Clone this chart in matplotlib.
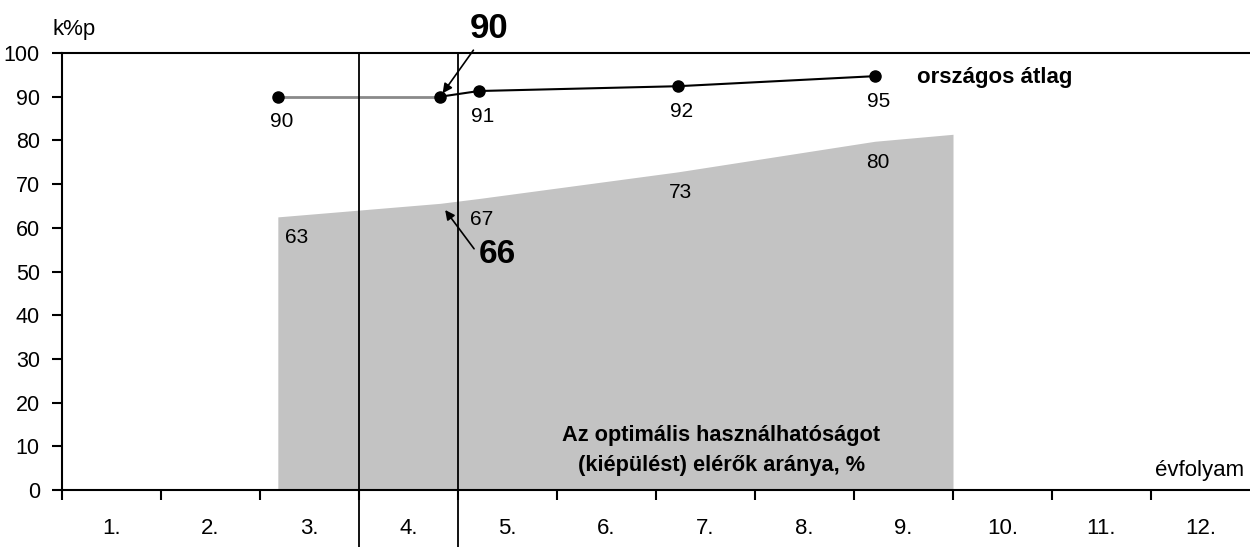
import matplotlib
matplotlib.use("Agg")
import matplotlib.pyplot as plt
from matplotlib.ticker import FixedLocator

# ---- data ----
categories = ["1.", "2.", "3.", "4.", "5.", "6.", "7.", "8.", "9.", "10.", "11.", "12."]
line_x = [2.68, 4.32, 4.71, 6.72, 8.71]          # measurement points (grade scale)
line_y = [90, 90, 91.3, 92.4, 94.7]              # országos átlag
line_labels = ["90", "", "91", "92", "95"]
area_x = [2.68, 4.32, 4.71, 6.72, 8.71, 9.5]
area_y = [62.5, 65.6, 66.7, 72.8, 79.8, 81.4]    # optimális használhatóságot elérők aránya
area_labels = ["63", "", "67", "73", "80", ""]
yticks = [0, 10, 20, 30, 40, 50, 60, 70, 80, 90, 100]
boundaries = [3.5, 4.5]
callout_top = "90"
callout_bottom = "66"

SANS = ["Liberation Sans", "DejaVu Sans"]

fig = plt.figure(figsize=(12.5, 5.47), dpi=100)
ax = fig.add_axes([62/1250, 1-490/547, 1-62/1250, (490-53)/547])
ax.set_xlim(0.5, 12.5)
ax.set_ylim(0, 100)

# shaded area
ax.fill_between(area_x, 0, area_y, color="#c3c3c3", lw=0, zorder=1)

# line series
ax.plot(line_x[:2], line_y[:2], color="#8a8a8a", lw=2, zorder=3)
ax.plot(line_x[1:], line_y[1:], color="black", lw=1.5, zorder=3)
ax.plot(line_x, line_y, "o", color="black", ms=8, zorder=4)

for x, y, t in zip(line_x, line_y, line_labels):
    if t:
        ax.annotate(t, (x, y), xytext=(3, -18), textcoords="offset points",
                    ha="center", va="center", fontsize=15, family=SANS)
for i, (x, y, t) in enumerate(zip(area_x, area_y, area_labels)):
    if t:
        if i == 0:
            ax.annotate(t, (x, y), xytext=(5, -15), textcoords="offset points",
                        ha="left", va="center", fontsize=15, family=SANS)
        else:
            ax.annotate(t, (x, y), xytext=(2, -15), textcoords="offset points",
                        ha="center", va="center", fontsize=15, family=SANS)

# callouts
ax.annotate(callout_top, xy=(line_x[1], line_y[1]), xytext=(35, 49), textcoords="offset points",
            ha="center", va="center", fontsize=25, fontweight="bold", family=SANS,
            arrowprops=dict(arrowstyle="-|>", color="black", lw=1.2, mutation_scale=14,
                            shrinkA=2, shrinkB=3), annotation_clip=False)
ax.annotate(callout_bottom, xy=(line_x[1], area_y[1]), xytext=(41, -37), textcoords="offset points",
            ha="center", va="center", fontsize=24, fontweight="bold", family=SANS,
            arrowprops=dict(arrowstyle="-|>", color="black", lw=1.2, mutation_scale=14,
                            shrinkA=2, shrinkB=6, relpos=(0.0, 0.5)))

# vertical boundary lines
for b in boundaries:
    ax.axvline(b, ymin=-0.2, ymax=1, color="black", lw=1.3, clip_on=False, zorder=5)

# texts
ax.text(9.14, 94.5, "országos átlag", fontsize=16, fontweight="bold", family=SANS,
        va="center", ha="left")
ax.text(7.16, 9.0, "Az optimális használhatóságot\n(kiépülést) elérők aránya, %",
        fontsize=15.7, fontweight="bold", family=SANS, ha="center", va="center",
        linespacing=1.6)
ax.text(12.44, 4.5, "évfolyam", fontsize=16, family=SANS, ha="right", va="center")
fig.text(52/1250, 1-30/547, "k%p", fontsize=16, family=SANS, ha="left", va="center")

# axes styling
ax.spines["right"].set_visible(False)
for s in ["left", "bottom", "top"]:
    ax.spines[s].set_linewidth(1.5)

ax.set_yticks(yticks)
ax.set_yticklabels([str(v) for v in yticks], family=SANS, fontsize=15.5)
ax.tick_params(axis="y", direction="out", length=7, width=1.5, pad=9)

ax.set_xticks(range(1, 13))
ax.set_xticklabels(categories, family=SANS, fontsize=16)
ax.tick_params(axis="x", which="major", length=0, pad=20)
ax.xaxis.set_minor_locator(FixedLocator([i + 0.5 for i in range(0, 12)]))
ax.tick_params(axis="x", which="minor", direction="out", length=7, width=1.5)

fig.savefig("out.png", dpi=100, facecolor="white")
